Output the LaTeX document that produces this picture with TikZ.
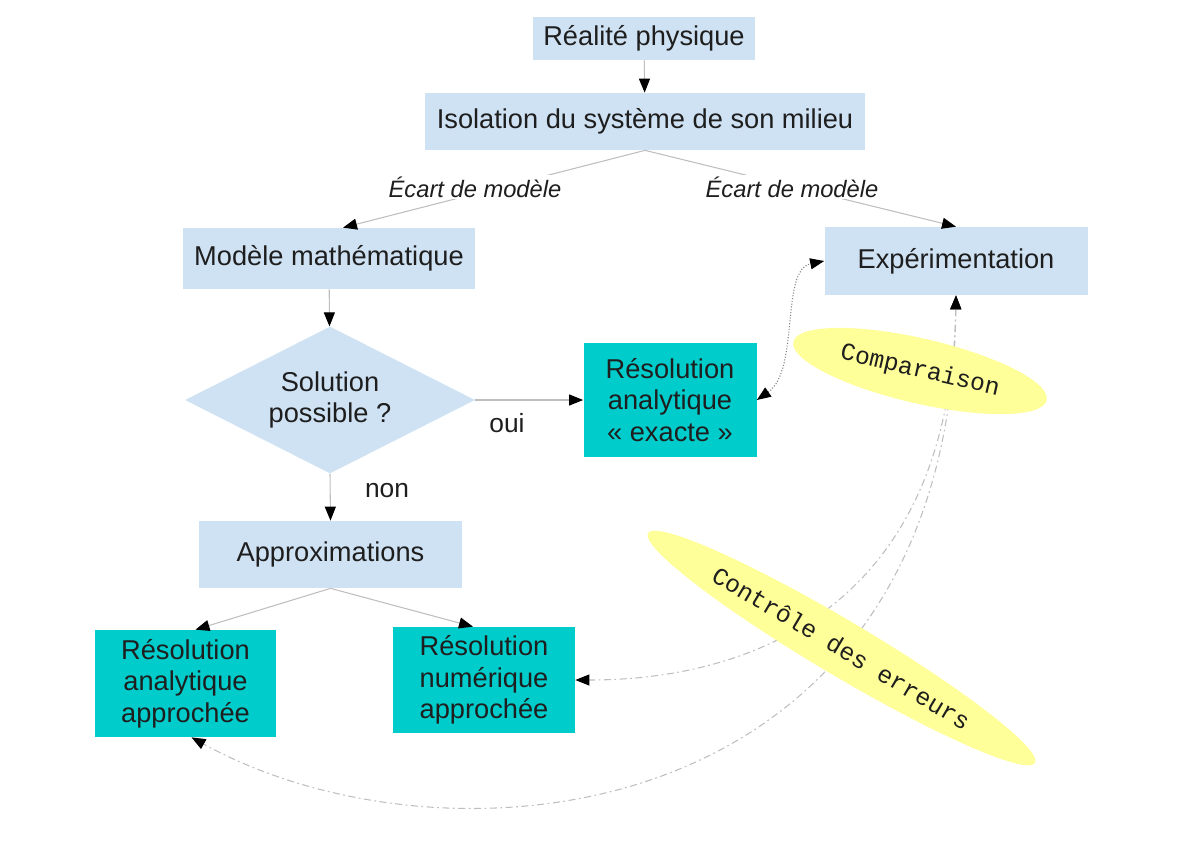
\documentclass[tikz,border=0pt]{standalone}
\usepackage{fontspec}
\setmainfont{Liberation Sans}
\setmonofont{Liberation Mono}
\usetikzlibrary{shapes.geometric,arrows.meta}
\definecolor{boxblue}{RGB}{207,226,243}
\definecolor{boxcyan}{RGB}{0,204,204}
\definecolor{noteyellow}{RGB}{255,255,153}
\definecolor{linegray}{RGB}{190,190,190}
\definecolor{textdark}{RGB}{30,30,30}

\begin{document}
\begin{tikzpicture}
        [box/.style={rectangle, fill=boxblue, inner sep=0pt, align=center, text=textdark, font=\fontsize{15.5}{18}\selectfont},
        result/.style={box, fill=boxcyan},
        test/.style={diamond, fill=boxblue, inner sep=0pt, aspect=1.97, align=center, text=textdark, font=\fontsize{15.5}{18}\selectfont},
        note/.style={ellipse, fill=noteyellow, inner sep=0pt, text=textdark, font=\ttfamily\fontsize{14}{17}\selectfont},
        edge/.style={draw=linegray, line width=0.6pt, -{Triangle[length=0.28cm, width=0.22cm, color=black]}},
        check/.style={draw=linegray, line width=0.6pt, dash pattern=on 4pt off 2pt on 1pt off 2pt,
            {Triangle[length=0.28cm, width=0.22cm, color=black]}-{Triangle[length=0.28cm, width=0.22cm, color=black]}},
        compare/.style={draw=gray, line width=0.6pt, densely dotted,
            {Triangle[length=0.28cm, width=0.22cm, color=black]}-{Triangle[length=0.28cm, width=0.22cm, color=black]}},
        label/.style={text=textdark, font=\fontsize{15}{18}\selectfont},
        gap/.style={fill=white, inner sep=1pt, text=textdark, font=\itshape\fontsize{13.5}{16}\selectfont}]

        \useasboundingbox (0,0) rectangle (24.06,-17.02);

        \node[box, minimum width=4.44cm, minimum height=0.86cm] (real) at (12.88,-0.77) {Réalité physique};
        \node[box, minimum width=8.8cm, minimum height=1.14cm] (iso) at (12.9,-2.43) {Isolation du système de son milieu};
        \node[box, minimum width=5.84cm, minimum height=1.22cm] (modele) at (6.58,-5.17) {Modèle mathématique};
        \node[box, minimum width=5.26cm, minimum height=1.36cm] (exper) at (19.12,-5.22) {Expérimentation};
        \node[test, minimum width=5.8cm, minimum height=2.94cm] (sol) at (6.6,-8.0) {Solution\\possible ?};
        \node[result, minimum width=3.46cm, minimum height=2.28cm] (exacte) at (13.4,-8.0) {Résolution\\analytique\\« exacte »};
        \node[box, minimum width=5.26cm, minimum height=1.34cm] (approx) at (6.61,-11.09) {Approximations};
        \node[result, minimum width=3.62cm, minimum height=2.14cm] (anapp) at (3.71,-13.67) {Résolution\\analytique\\approchée};
        \node[result, minimum width=3.64cm, minimum height=2.12cm] (numapp) at (9.68,-13.6) {Résolution\\numérique\\approchée};

        % main flow
        \draw[edge] (real) -- (iso);
        \draw[edge] (iso.south) -- ([xshift=0.28cm]modele.north);
        \draw[edge] (iso.south) -- (exper.north);
        \draw[edge] (modele) -- (sol);
        \draw[edge] (sol.east) -- (exacte.west);
        \draw[edge] (sol.south) -- (approx.north);
        \draw[edge] (approx.south) -- ([xshift=0.2cm]anapp.north);
        \draw[edge] (approx.south) -- ([xshift=-0.22cm]numapp.north);

        % labels on the edges
        \node[gap] (gapl) at (9.5,-3.74) {Écart de modèle};
        \node[gap] (gapr) at (15.84,-3.74) {Écart de modèle};
        \node[label] (oui) at (10.14,-8.46) {oui};
        \node[label] (non) at (7.74,-9.82) {non};

        % comparison and error checks
        \draw[compare] (exacte.east) .. controls (16.0,-7.4) and (15.6,-5.4) .. (exper.west);
        \draw[check] (exper.south) .. controls (19.0,-12.0) and (15.2,-13.6) .. (numapp.east);
        \draw[check] (exper.south) .. controls (19.0,-16.6) and (9.0,-17.6) .. ([xshift=0.12cm]anapp.south);

        % notes on top of the curves
        \node[note, rotate=-13, minimum width=5.2cm, minimum height=1.3cm] (comp) at (18.4,-7.42) {Comparaison};
        \node[note, rotate=-30.7, minimum width=9.0cm, minimum height=1.1cm] (ctrl) at (16.83,-12.96) {Contrôle des erreurs};

    \end{tikzpicture}
\end{document}
